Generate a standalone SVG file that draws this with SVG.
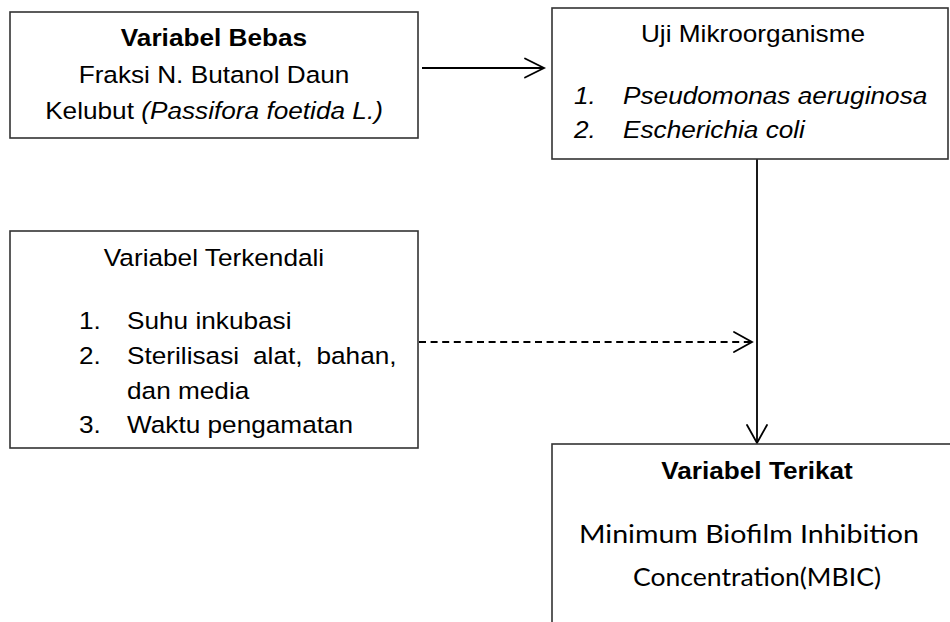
<svg xmlns="http://www.w3.org/2000/svg" width="950" height="622" viewBox="0 0 950 622">
<style>
.box{fill:#fff;stroke:#333;stroke-width:1.6}
.t{font-family:"Liberation Sans",Arial,sans-serif;font-size:23.5px;fill:#000}
.b{font-weight:bold}
.i{font-style:italic}
.c{font-family:Lato,"Open Sans",sans-serif;font-size:25px;fill:#000}
.ln{stroke:#000;stroke-width:1.8;fill:none}
.dash{stroke-dasharray:7 4.6}
.head{stroke:#000;stroke-width:1.8;fill:none;stroke-linecap:round;stroke-linejoin:miter}
</style>
<rect width="950" height="622" fill="#fff"/>
<g id="connectors">
<line class="ln" x1="422" y1="68" x2="543" y2="68"/>
<polyline class="head" points="525,58.5 544,68 525,77.5"/>
<line class="ln" x1="757" y1="159" x2="757" y2="443"/>
<polyline class="head" points="747,425 757,443 767,425"/>
<line class="ln dash" x1="419" y1="342" x2="751" y2="342"/>
<polyline class="head" points="734,332 752,342 734,352"/>
</g>
<g id="node-bebas">
<rect class="box" x="10" y="12" width="408" height="126"/>
<text class="t b" text-anchor="middle" transform="translate(214 46) scale(1.115 1)">Variabel Bebas</text>
<text class="t" text-anchor="middle" transform="translate(214 83) scale(1.115 1)">Fraksi N. Butanol Daun</text>
<text class="t" text-anchor="middle" transform="translate(214 119) scale(1.115 1)">Kelubut <tspan class="i">(Passifora foetida L.)</tspan></text>
</g>
<g id="node-uji">
<rect class="box" x="552" y="8" width="396" height="151"/>
<text class="t" text-anchor="middle" transform="translate(753 42) scale(1.115 1)">Uji Mikroorganisme</text>
<text class="t i" transform="translate(574 104) scale(1.115 1)">1.</text>
<text class="t i" transform="translate(623 104) scale(1.115 1)">Pseudomonas aeruginosa</text>
<text class="t i" transform="translate(574 138) scale(1.115 1)">2.</text>
<text class="t i" transform="translate(623 138) scale(1.115 1)">Escherichia coli</text>
</g>
<g id="node-terkendali">
<rect class="box" x="10" y="231" width="408" height="217"/>
<text class="t" text-anchor="middle" transform="translate(214 266) scale(1.115 1)">Variabel Terkendali</text>
<text class="t" transform="translate(79 329) scale(1.115 1)">1.</text>
<text class="t" transform="translate(127 329) scale(1.115 1)">Suhu inkubasi</text>
<text class="t" transform="translate(79 364) scale(1.115 1)">2.</text>
<text class="t" transform="translate(127 364) scale(1.115 1)" word-spacing="6">Sterilisasi alat, bahan,</text>
<text class="t" transform="translate(127 399) scale(1.115 1)">dan media</text>
<text class="t" transform="translate(79 433) scale(1.115 1)">3.</text>
<text class="t" transform="translate(127 433) scale(1.115 1)">Waktu pengamatan</text>
</g>
<g id="node-terikat">
<rect class="box" x="552" y="444" width="420" height="200"/>
<text class="t b" text-anchor="middle" transform="translate(757 479) scale(1.115 1)">Variabel Terikat</text>
<text class="c" x="749" y="543" text-anchor="middle" textLength="340" lengthAdjust="spacingAndGlyphs">Minimum Biofilm Inhibition</text>
<text class="c" x="757" y="586" text-anchor="middle" textLength="248" lengthAdjust="spacingAndGlyphs">Concentration(MBIC)</text>
</g>
</svg>
